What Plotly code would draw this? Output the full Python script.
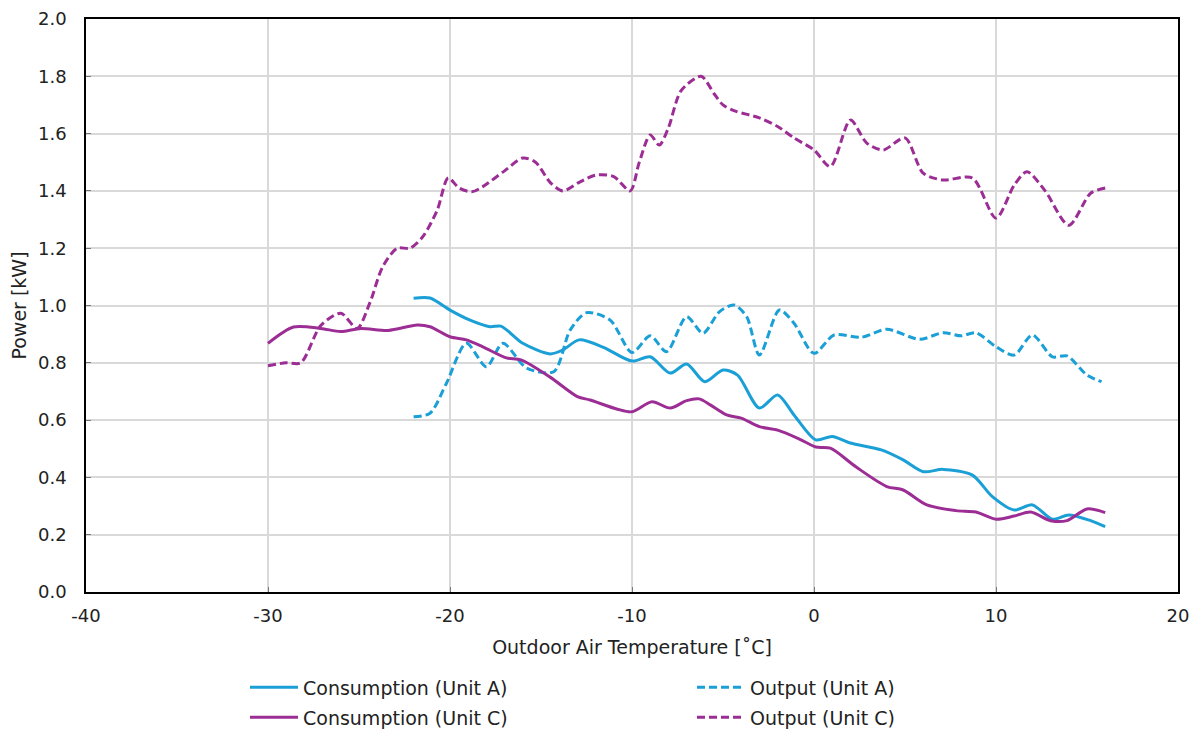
import plotly.graph_objects as go

# Consumption (Unit A)
cons_a_t = [-22, -21.1, -20, -18.9, -17.8, -17.2, -16, -14.5, -13.8, -12.9, -11.6, -10, -9, -7.9, -7, -6,
            -5, -4.2, -3, -2, -1.1, 0.1, 1, 2, 3.7, 4.9, 6, 7.1, 8.7, 9.8, 11, 12, 13.1, 14, 15.2, 16]
cons_a_p = [1.025, 1.026, 0.984, 0.949, 0.926, 0.928, 0.868, 0.831, 0.845, 0.88, 0.855, 0.806, 0.821, 0.764,
            0.796, 0.734, 0.775, 0.757, 0.642, 0.688, 0.618, 0.531, 0.543, 0.52, 0.496, 0.461, 0.42, 0.428,
            0.408, 0.333, 0.286, 0.304, 0.254, 0.269, 0.249, 0.228]

# Output (Unit A)
out_a_t = [-22, -21.1, -20.2, -19.1, -18, -17.1, -15.8, -14.3, -13.4, -12.5, -11.2, -10, -9, -8.1, -7,
           -6.1, -5.2, -4.4, -3.7, -3, -1.9, -1.1, 0, 1.1, 2.6, 4, 5.8, 7.1, 8.1, 8.9, 10, 11, 12, 13.1,
           13.9, 15, 15.8]
out_a_p = [0.612, 0.624, 0.728, 0.868, 0.786, 0.868, 0.782, 0.769, 0.914, 0.975, 0.949, 0.836, 0.894,
           0.839, 0.961, 0.903, 0.978, 1.002, 0.961, 0.827, 0.984, 0.938, 0.833, 0.897, 0.889, 0.917,
           0.882, 0.905, 0.894, 0.905, 0.856, 0.827, 0.897, 0.821, 0.824, 0.757, 0.734]

# Consumption (Unit C)
cons_c_t = [-30, -28.6, -27.1, -26, -24.9, -23.4, -21.8, -21.1, -20, -19.1, -18.2, -16.9, -16.1, -14.5,
            -13, -12.3, -10.8, -10, -8.9, -7.9, -7, -6.3, -5.7, -4.8, -4, -3, -2, -0.8, 0.1, 0.9, 2.3,
            4, 4.9, 6.2, 7.8, 8.9, 10, 11, 11.9, 13, 13.9, 15, 16]
cons_c_p = [0.868, 0.925, 0.92, 0.909, 0.92, 0.913, 0.932, 0.926, 0.891, 0.88, 0.856, 0.817, 0.81, 0.75,
            0.682, 0.67, 0.638, 0.629, 0.664, 0.642, 0.668, 0.674, 0.653, 0.618, 0.607, 0.577, 0.565,
            0.534, 0.506, 0.502, 0.437, 0.368, 0.356, 0.304, 0.284, 0.279, 0.254, 0.265, 0.279, 0.249,
            0.249, 0.29, 0.277]

# Output (Unit C)
out_c_t = [-30, -29, -28.2, -27.1, -26, -25.1, -24.4, -23.7, -22.9, -22.2, -21.5, -20.7, -20.1, -19.5,
           -18.8, -18.2, -17, -16, -15.3, -14.5, -13.8, -12.9, -12, -11, -10.1, -9.6, -9, -8.5, -8,
           -7.3, -6.2, -5.5, -5, -4.4, -3, -2, -1.1, 0, 0.9, 2, 2.9, 3.8, 5, 6, 7.1, 8.7, 10, 11,
           11.7, 12.7, 14, 15.2, 16]
out_c_p = [0.79, 0.80, 0.80, 0.93, 0.973, 0.92, 1.01, 1.135, 1.20, 1.20, 1.24, 1.333, 1.445, 1.41, 1.397,
           1.415, 1.47, 1.515, 1.50, 1.43, 1.40, 1.43, 1.455, 1.45, 1.40, 1.50, 1.595, 1.56, 1.62, 1.75,
           1.80, 1.74, 1.70, 1.68, 1.655, 1.625, 1.585, 1.543, 1.485, 1.647, 1.567, 1.543, 1.585, 1.462,
           1.438, 1.445, 1.305, 1.42, 1.467, 1.40, 1.28, 1.392, 1.41]

x_ticks = [-40, -30, -20, -10, 0, 10, 20]
x_tick_text = ["-40", "-30", "-20", "-10", "0", "10", "20"]
y_ticks = [0.0, 0.2, 0.4, 0.6, 0.8, 1.0, 1.2, 1.4, 1.6, 1.8, 2.0]

CYAN = "#1a9fd6"
PURPLE = "#9b2d94"
FONT = "DejaVu Sans"
TXT = "#222222"

fig = go.Figure()
series = [
    ("Consumption (Unit A)", cons_a_t, cons_a_p, CYAN, "solid", "legend"),
    ("Output (Unit A)", out_a_t, out_a_p, CYAN, "8px,4px", "legend"),
    ("Consumption (Unit C)", cons_c_t, cons_c_p, PURPLE, "solid", "legend2"),
    ("Output (Unit C)", out_c_t, out_c_p, PURPLE, "8px,4px", "legend2"),
]
for name, t, p, col, dash, leg in series:
    fig.add_trace(go.Scatter(
        x=t, y=p, name=name, mode="lines", legend=leg,
        line=dict(color=col, width=3, dash=dash, shape="spline", smoothing=0.8),
    ))

axis_common = dict(
    showline=True, linecolor="black", linewidth=1.5, mirror=True,
    showgrid=True, gridcolor="#d9d9d9", gridwidth=1.5,
    ticks="inside", ticklen=5, tickcolor="#777777", zeroline=False,
    tickfont=dict(family=FONT, size=18, color=TXT),
)

fig.update_xaxes(range=[-40, 20], tickvals=x_ticks, ticktext=x_tick_text, ticklabelstandoff=7,
                 title=dict(text="Outdoor Air Temperature [˚C]", font=dict(family=FONT, size=19, color=TXT),
                            standoff=15),
                 **axis_common)
fig.update_yaxes(range=[0, 2.0], tickvals=y_ticks, tickformat=".1f", ticklabelstandoff=14,
                 title=dict(text="Power [kW]", font=dict(family=FONT, size=19, color=TXT), standoff=12),
                 **axis_common)

legend_common = dict(orientation="h", x=0.1456, xanchor="left", yanchor="top",
                     entrywidth=384, entrywidthmode="pixels", itemwidth=48, tracegroupgap=0,
                     font=dict(family=FONT, size=19, color=TXT))

fig.update_layout(
    width=1190, height=722,
    margin=dict(l=78, r=20, t=11, b=138, autoexpand=False),
    plot_bgcolor="white", paper_bgcolor="white",
    font=dict(family=FONT, size=18, color=TXT),
    legend=dict(y=-0.1335, **legend_common),
    legend2=dict(y=-0.1859, **legend_common),
    showlegend=True,
)

fig.write_html("out.html")
